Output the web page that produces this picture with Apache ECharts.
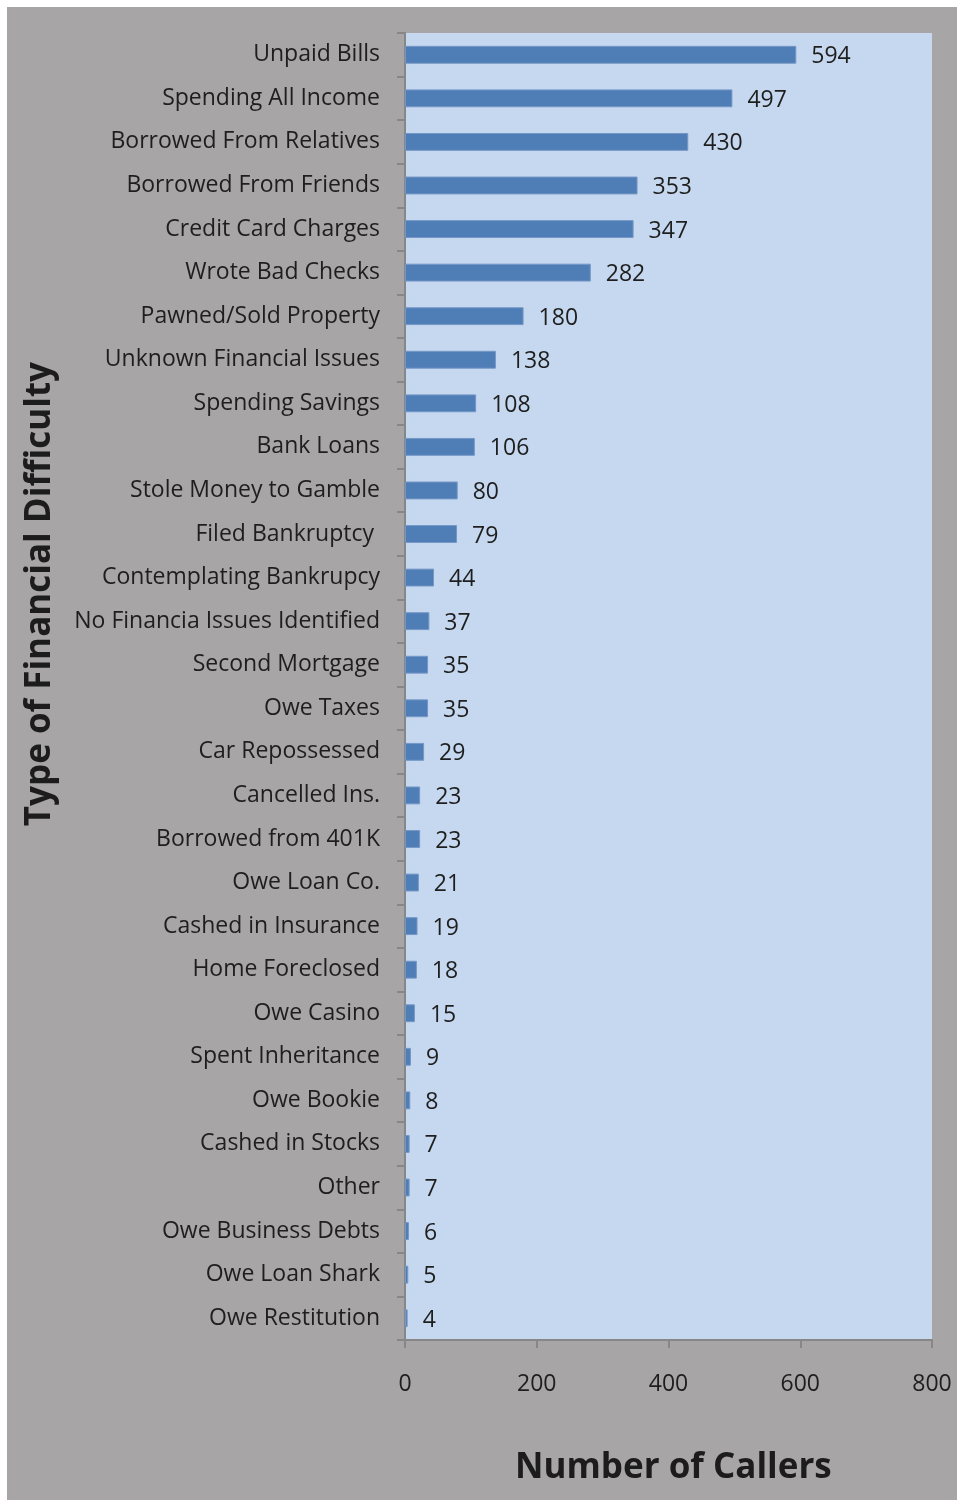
<!DOCTYPE html>
<html>
<head>
<meta charset="utf-8">
<script src="https://cdn.jsdelivr.net/npm/echarts@6/dist/echarts.min.js"></script>
<style>
  html, body { margin: 0; padding: 0; background: #ffffff; }
  #chart { position: absolute; left: 7px; top: 7px; width: 950px; height: 1493px; }
</style>
</head>
<body>
<div id="chart"></div>
<script>
// Financial difficulties reported by callers, listed from most to least common
const categories = [
  'Unpaid Bills', 'Spending All Income', 'Borrowed From Relatives', 'Borrowed From Friends',
  'Credit Card Charges', 'Wrote Bad Checks', 'Pawned/Sold Property', 'Unknown Financial Issues',
  'Spending Savings', 'Bank Loans', 'Stole Money to Gamble', 'Filed Bankruptcy ',
  'Contemplating Bankrupcy', 'No Financia Issues Identified', 'Second Mortgage', 'Owe Taxes',
  'Car Repossessed', 'Cancelled Ins.', 'Borrowed from 401K', 'Owe Loan Co.',
  'Cashed in Insurance', 'Home Foreclosed', 'Owe Casino', 'Spent Inheritance',
  'Owe Bookie', 'Cashed in Stocks', 'Other', 'Owe Business Debts',
  'Owe Loan Shark', 'Owe Restitution'
];
const callers = [
  594, 497, 430, 353, 347, 282, 180, 138, 108, 106, 80, 79, 44, 37, 35, 35,
  29, 23, 23, 21, 19, 18, 15, 9, 8, 7, 7, 6, 5, 4
];
const xTicks = { min: 0, max: 800, interval: 200 };
const yTitle = 'Type of Financial Difficulty';
const xTitle = 'Number of Callers';

const font = '"Open Sans", "Noto Sans", sans-serif';
const chart = echarts.init(document.getElementById('chart'), null, { renderer: 'canvas' });

chart.setOption({
  backgroundColor: '#a7a5a6',
  animation: false,
  grid: { left: 398, right: 25, top: 26, bottom: 160, show: true, backgroundColor: '#c5d8ef', borderWidth: 0 },
  xAxis: {
    type: 'value',
    min: xTicks.min, max: xTicks.max, interval: xTicks.interval,
    axisLine: { show: true, lineStyle: { color: '#878787', width: 2 } },
    axisTick: { show: true, length: 8, lineStyle: { color: '#878787', width: 2 } },
    splitLine: { show: false },
    axisLabel: { color: '#1e1e1e', fontSize: 23, fontFamily: font, margin: 33 }
  },
  yAxis: {
    type: 'category',
    data: categories,
    inverse: true,
    axisLine: { show: true, lineStyle: { color: '#878787', width: 2 } },
    axisTick: { show: true, length: 8, lineStyle: { color: '#878787', width: 2 } },
    axisLabel: { color: '#1e1e1e', fontSize: 23, fontFamily: font, margin: 25, padding: [4, 0, 0, 0] }
  },
  series: [{
    type: 'bar',
    data: callers,
    barCategoryGap: '59%',
    itemStyle: { color: '#4f7db6', borderColor: '#7597c6', borderWidth: 1 },
    label: {
      show: true, position: 'right', distance: 15, offset: [0, 2],
      color: '#1e1e1e', fontSize: 23, fontFamily: font
    }
  }],
  graphic: [
    {
      type: 'text', left: 16, top: 355, rotation: Math.PI / 2,
      style: { text: yTitle, fill: '#1c1c1c', font: 'bold 35px ' + font }
    },
    {
      type: 'text', left: 508, top: 1444,
      style: { text: xTitle, fill: '#1c1c1c', font: 'bold 35px ' + font }
    }
  ]
});
</script>
</body>
</html>
